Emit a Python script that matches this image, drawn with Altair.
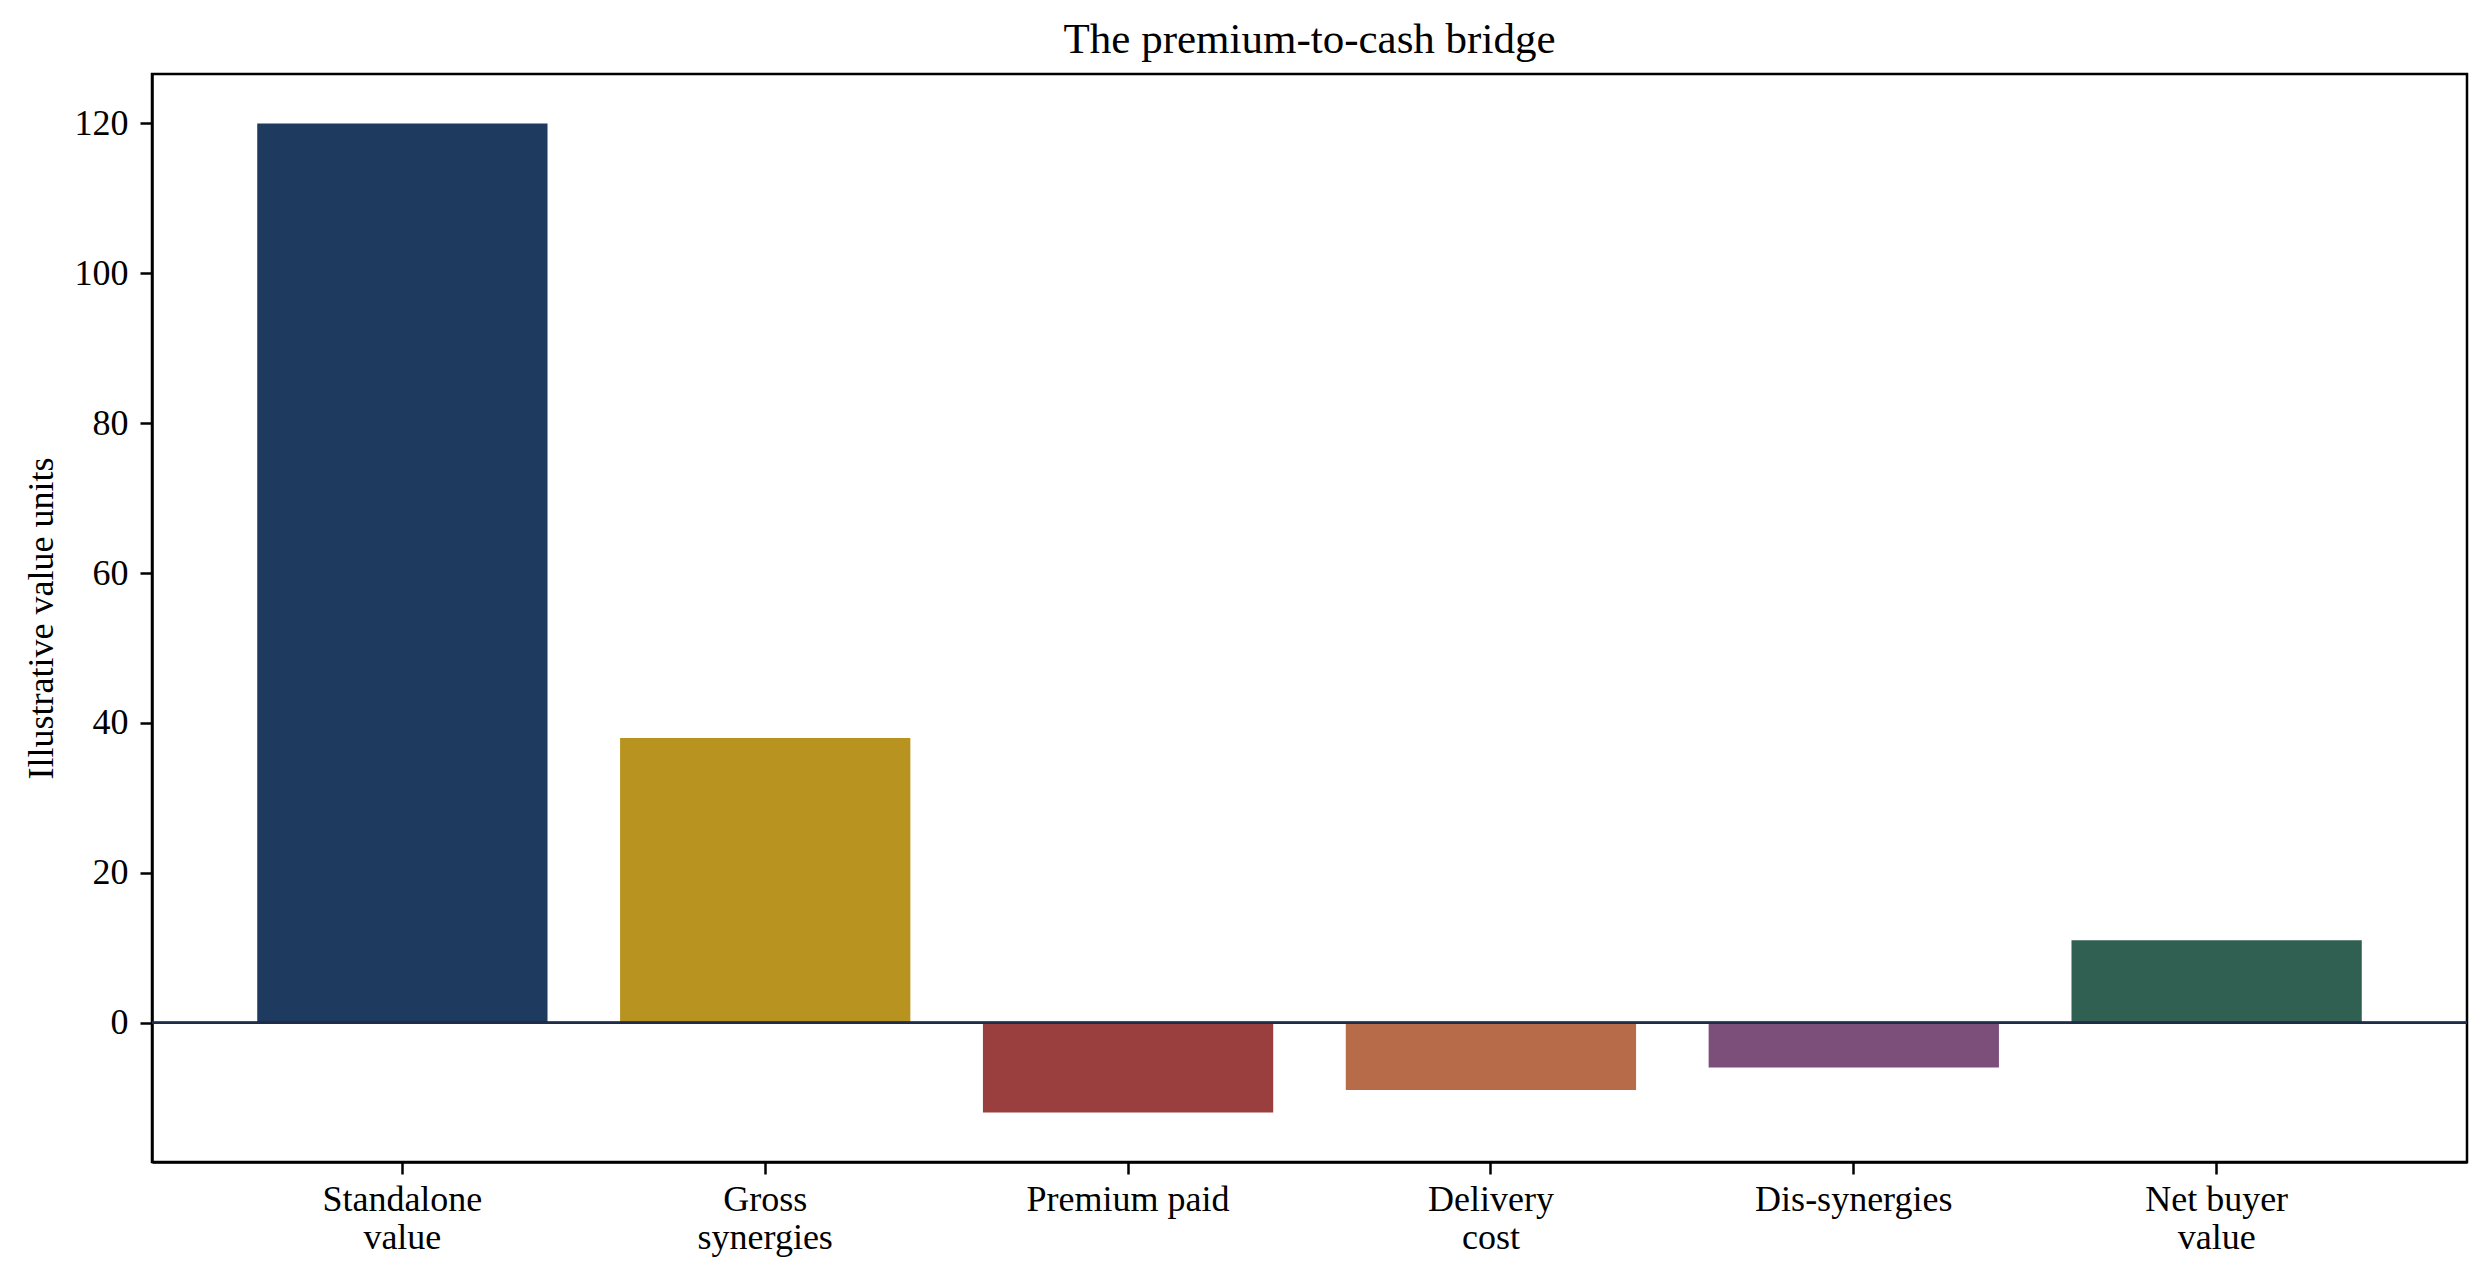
import altair as alt
import pandas as pd

categories = ["Standalone\nvalue", "Gross\nsynergies", "Premium paid", "Delivery\ncost", "Dis-synergies", "Net buyer\nvalue"]
values = [120, 38, -12, -9, -6, 11]
colors = ["#1f3a5f", "#b8931f", "#9a3e3e", "#b86b48", "#7b4f7a", "#306052"]
y_ticks = [0, 20, 40, 60, 80, 100, 120]

df = pd.DataFrame({"category": categories, "value": values})

FONT = "Liberation Serif"

bars = alt.Chart(df).mark_bar().encode(
    x=alt.X(
        "category:N",
        sort=categories,
        scale=alt.Scale(paddingInner=0.2, paddingOuter=0.29),
        axis=alt.Axis(
            title=None,
            labelAngle=0,
            labelExpr="split(datum.label, '\\n')",
            labelFont=FONT,
            labelFontSize=36,
            labelLineHeight=38,
            labelColor="black",
            labelPadding=8,
            labelBaseline="top",
            labelLimit=0,
            tickSize=12,
            tickWidth=2.5,
            tickColor="black",
            domainColor="black",
            domainWidth=2.5,
        ),
    ),
    y=alt.Y(
        "value:Q",
        scale=alt.Scale(domain=[-18.6, 126.6], nice=False, zero=False),
        axis=alt.Axis(
            title="Illustrative value units",
            values=y_ticks,
            grid=False,
            labelFont=FONT,
            labelFontSize=36,
            labelColor="black",
            labelPadding=12,
            tickSize=12,
            tickWidth=2.5,
            tickColor="black",
            domainColor="black",
            domainWidth=2.5,
            titleFont=FONT,
            titleFontSize=36,
            titleFontWeight="normal",
            titleColor="black",
            titleBaseline="alphabetic",
            titlePadding=22,
        ),
    ),
    color=alt.Color("category:N", scale=alt.Scale(domain=categories, range=colors), legend=None),
)

zero = alt.Chart(df).mark_rule(color="#1f2d4a", strokeWidth=2).encode(y=alt.datum(0))

chart = alt.layer(bars, zero).properties(
    width=2315,
    height=1088,
    title=alt.TitleParams(
        "The premium-to-cash bridge",
        font=FONT,
        fontSize=43,
        fontWeight="normal",
        color="black",
        anchor="middle",
        frame="group",
        baseline="alphabetic",
        offset=12,
        dy=34,
    ),
    autosize=alt.AutoSizeParams(type="none"),
    padding={"left": 144, "top": 66, "right": 14, "bottom": 110},
).configure(
    background="white",
    view=alt.ViewConfig(stroke="black", strokeWidth=2.5),
)

chart.save("out.html", embed_options={"renderer": "svg", "actions": False})
